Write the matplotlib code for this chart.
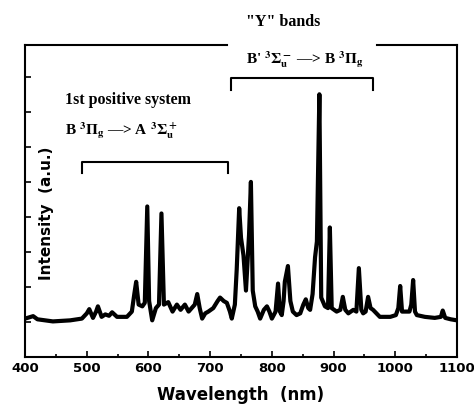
import matplotlib.pyplot as plt
from matplotlib.ticker import MultipleLocator

plt.rcParams['mathtext.fontset'] = 'stix'
plt.rcParams['mathtext.default'] = 'bf'

# spectrum (wavelength in nm, intensity in arbitrary units)
wavelength = [400, 413, 420, 445, 473, 492, 500, 504, 510, 515, 518, 524, 530, 536, 541,
              549, 565, 573, 577, 580, 584, 590, 594, 598, 601, 606, 612, 617, 621, 625,
              632, 639, 646, 652, 659, 665, 670, 675, 679, 683, 687, 692, 697, 705, 712,
              716, 722, 727, 732, 735, 740, 743, 747, 750, 754, 758, 763, 766, 769, 773,
              777, 781, 787, 792, 796, 800, 806, 810, 813, 816, 819, 821, 826, 830, 834,
              840, 846, 851, 855, 859, 862, 866, 870, 873, 877, 880, 886, 891, 894, 897,
              905, 911, 915, 919, 924, 932, 937, 941, 945, 948, 952, 956, 960, 964, 975,
              992, 1001, 1005, 1008, 1011, 1016, 1023, 1026, 1029, 1032, 1035, 1048, 1064,
              1074, 1077, 1081, 1090, 1100]
intensity = [0.1, 0.17, 0.08, 0.02, 0.05, 0.1, 0.25, 0.37, 0.12, 0.3, 0.45, 0.15, 0.22, 0.18, 0.28,
             0.15, 0.15, 0.3, 0.8, 1.15, 0.5, 0.45, 0.55, 3.3, 0.6, 0.05, 0.4, 0.5, 3.1, 0.5,
             0.57, 0.3, 0.5, 0.35, 0.5, 0.3, 0.4, 0.5, 0.8, 0.4, 0.1, 0.25, 0.3, 0.4, 0.6,
             0.7, 0.6, 0.55, 0.3, 0.1, 0.5, 1.5, 3.25, 2.4, 1.9, 0.9, 2.5, 4.0, 0.9, 0.45,
             0.3, 0.1, 0.35, 0.45, 0.3, 0.1, 0.3, 1.1, 0.3, 0.2, 0.6, 1.15, 1.6, 0.6, 0.3,
             0.2, 0.25, 0.5, 0.65, 0.4, 0.35, 0.8, 1.85, 2.3, 6.5, 0.7, 0.45, 0.4, 2.7, 0.4,
             0.3, 0.35, 0.72, 0.35, 0.25, 0.35, 0.3, 1.54, 0.35, 0.25, 0.3, 0.72, 0.4, 0.35, 0.15,
             0.15, 0.2, 0.4, 1.03, 0.3, 0.3, 0.3, 0.5, 1.2, 0.3, 0.2, 0.15, 0.12,
             0.15, 0.33, 0.12, 0.08, 0.05]

xticks = [400, 500, 600, 700, 800, 900, 1000, 1100]

fig = plt.figure(figsize=(4.74, 4.11), dpi=100)
ax = fig.add_axes([0.053, 0.131, 0.911, 0.759])

ax.plot(wavelength, intensity, color='black', lw=3, solid_joinstyle='round')

ax.set_xlim(400, 1100)
ax.set_ylim(-1, 7.9)
ax.set_xticks(xticks)
ax.xaxis.set_minor_locator(MultipleLocator(50))
ax.yaxis.set_major_locator(MultipleLocator(1))
ax.set_yticklabels([])
ax.tick_params(direction='in', width=1.2, length=4, labelsize=9.5)
ax.tick_params(which='minor', direction='in', width=1.2, length=2)
for lab in ax.get_xticklabels():
    lab.set_fontweight('bold')
ax.set_xlabel('Wavelength  (nm)', fontsize=12, fontweight='bold', labelpad=8)

for s in ['left', 'right', 'bottom']:
    ax.spines[s].set_linewidth(1.5)
ax.spines['top'].set_visible(False)
# broken top frame
ax.plot([400, 727], [7.9, 7.9], color='black', lw=1.5, clip_on=False)
ax.plot([970, 1100], [7.9, 7.9], color='black', lw=1.5, clip_on=False)

ax.text(0.05, 0.46, 'Intensity  (a.u.)', transform=ax.transAxes, rotation=90,
        ha='center', va='center', fontsize=11, fontweight='bold')

serif = 'Liberation Serif'
# "Y" bands annotation
ax.text(818, 8.57, '"Y" bands', ha='center', va='center', fontsize=11.5,
        fontweight='bold', family=serif, clip_on=False)
ax.text(854, 7.5, r"B' $^3\Sigma_u^-$ —> B $^3\Pi_g$", ha='center', va='center',
        fontsize=11, fontweight='bold', family=serif)
ax.plot([734, 734, 964, 964], [6.63, 6.97, 6.97, 6.63], color='black', lw=1.5)

# 1st positive system annotation
ax.text(465, 6.34, '1st positive system', ha='left', va='center', fontsize=11.5,
        fontweight='bold', family=serif)
ax.text(465, 5.45, r"B $^3\Pi_g$ —> A $^3\Sigma_u^+$", ha='left', va='center',
        fontsize=11, fontweight='bold', family=serif)
ax.plot([492, 492, 729, 729], [4.26, 4.57, 4.57, 4.26], color='black', lw=1.5)

fig.savefig('out.png', dpi=100)
